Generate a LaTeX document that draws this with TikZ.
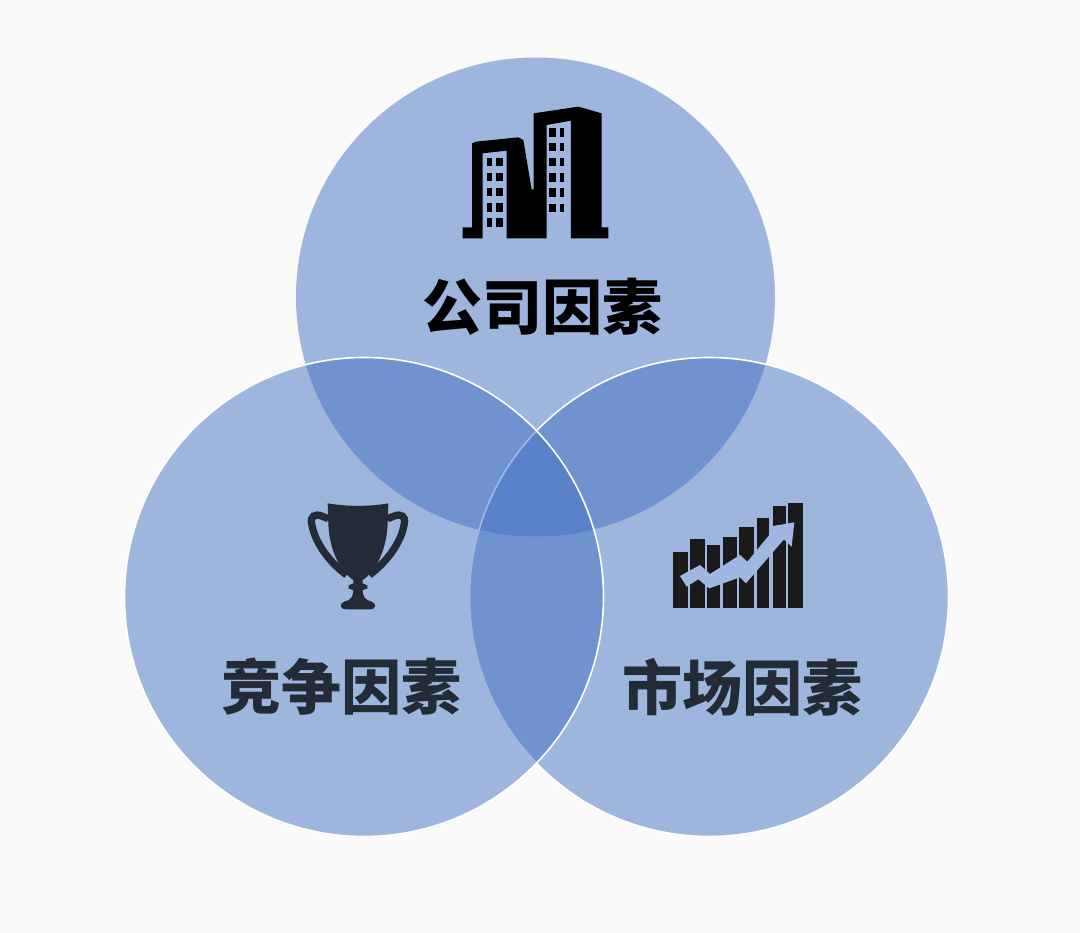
\documentclass[tikz,border=0pt]{standalone}
\usepackage{xcolor}
\usepackage{fontspec}
\newfontfamily\cjk{Noto Sans CJK SC}[BoldFont={Noto Sans CJK SC Black}]
\definecolor{paper}{HTML}{FAFAFA}
\definecolor{office}{HTML}{4472C4}
\definecolor{pale}{HTML}{A0B8E1}
\definecolor{ink}{HTML}{222B36}
\definecolor{coal}{HTML}{1A1A1A}
\tikzset{
	venn/.style={fill=office, fill opacity=0.5},
	vennline/.style={venn, draw=white, line width=1.6pt},
	title/.style={font=\cjk\bfseries\fontsize{60}{60}\selectfont, inner sep=0pt},
}

\begin{document}
\begin{tikzpicture}[x=1pt,y=-1pt]

\useasboundingbox[fill=paper] (0,0) rectangle (1080,933);

\fill[venn] (535.5,297) circle (239.5);
\draw[vennline] (709,597) circle (239.5);
\draw[vennline] (364,597) circle (239.5);

% building
\begin{scope}[shift={(440,90)},x=0.3333pt,y=-0.3333pt]
\fill[black] (68,445) -- (68,412) -- (96,412) -- (96,160) -- (108,155) -- (235,142) -- (250,150) -- (275,298) -- (281,298) -- (281,70) -- (415,50) -- (485,70) -- (485,412) -- (505,412) -- (505,445) -- (393,445) -- (393,92) -- (320,105) -- (320,445) -- (200,445) -- (200,182) -- (128,190) -- (128,445) -- cycle;
\foreach \a in {203,248,293,340,385}{
	\fill[black] (140,\a) rectangle (155,\a+25);
	\fill[black] (168,\a) rectangle (188,\a+25);
}
\foreach \a in {115,158,203,250,295,342}{
	\fill[black] (327,\a) rectangle (347,\a+25);
	\fill[black] (360,\a) rectangle (373,\a+25);
}
\end{scope}

% trophy
\begin{scope}[shift={(290,490)},x=0.3333pt,y=-0.3333pt]
\fill[ink] (113,40) .. controls (170,50) and (240,50) .. (295,40) -- (293,100) .. controls (290,190) and (250,250) .. (218,270) -- (218,280) -- (232,286) -- (232,296) -- (218,300) .. controls (218,320) and (225,330) .. (245,335) .. controls (260,340) and (260,358) .. (240,358) -- (168,358) .. controls (148,358) and (148,340) .. (163,335) .. controls (183,330) and (190,320) .. (190,300) -- (176,296) -- (176,286) -- (190,280) -- (190,270) .. controls (158,250) and (118,190) .. (115,100) -- cycle;
\draw[ink, line width=7.3pt] (115,86) -- (95,78) .. controls (75,70) and (60,80) .. (65,100) .. controls (72,150) and (110,210) .. (170,255);
\draw[ink, line width=7.3pt] (293,86) -- (313,78) .. controls (333,70) and (348,80) .. (343,100) .. controls (336,150) and (298,210) .. (238,255);
\end{scope}

% chart
\begin{scope}[shift={(660,490)},x=0.3333pt,y=-0.3333pt]
\foreach \a/\b/\c in {40/83/185,90/135/147,142/180/166,188/232/142,238/283/110,290/327/84,340/377/47,384/429/40}{
	\fill[coal] (\a,\c) rectangle (\b,355);
}
\fill[pale] (60,258) -- (120,225) -- (150,252) -- (240,195) -- (262,215) -- (340,120) -- (328,110) -- (403,97) -- (395,170) -- (372,148) -- (258,280) -- (240,262) -- (148,295) -- (115,268) -- (80,290) -- cycle;
\end{scope}

\node[title, text=black] (company) at (542,307) {公司因素};
\node[title, text=ink] (rival) at (341,687) {竞争因素};
\node[title, text=ink] (market) at (742,687) {市场因素};

\end{tikzpicture}
\end{document}
